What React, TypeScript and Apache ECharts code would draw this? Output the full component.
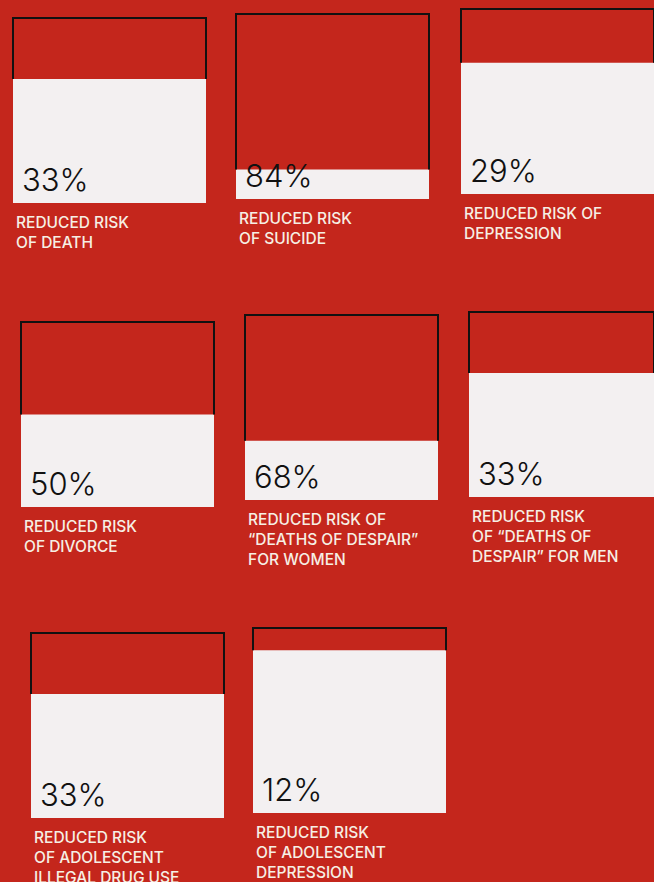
import React, { useEffect, useRef } from "react";
import * as echarts from "echarts";

const values = [33, 84, 29, 50, 68, 33, 33, 12];
const percentLabels = ["33%", "84%", "29%", "50%", "68%", "33%", "33%", "12%"];
const captions = [
  "REDUCED RISK\nOF DEATH",
  "REDUCED RISK\nOF SUICIDE",
  "REDUCED RISK OF\nDEPRESSION",
  "REDUCED RISK\nOF DIVORCE",
  "REDUCED RISK OF\n“DEATHS OF DESPAIR”\nFOR WOMEN",
  "REDUCED RISK\nOF “DEATHS OF\nDESPAIR” FOR MEN",
  "REDUCED RISK\nOF ADOLESCENT\nILLEGAL DRUG USE",
  "REDUCED RISK\nOF ADOLESCENT\nDEPRESSION",
];

// panel layout (left, top) in px
const panelLeft = [13, 236, 461, 21, 245, 469, 31, 253];
const panelTop = [18, 14, 9, 322, 315, 312, 633, 628];
const PANEL_W = 193;
const PANEL_H = 185;

const RED = "#c4261c";
const WHITE = "#f3f0f1";

export default function App() {
  const ref = useRef<HTMLDivElement>(null);

  useEffect(() => {
    if (!ref.current) return;
    const chart = echarts.init(ref.current, null, { renderer: "svg" });

    const grids = values.map((_, i) => ({
      left: panelLeft[i],
      top: panelTop[i],
      width: PANEL_W,
      height: PANEL_H,
    }));
    const xAxes = values.map((_, i) => ({
      type: "category",
      gridIndex: i,
      data: ["x"],
      show: false,
      boundaryGap: true,
    }));
    const yAxes = values.map((_, i) => ({
      type: "value",
      gridIndex: i,
      min: 0,
      max: 100,
      show: false,
    }));

    const series = values.map((v, i) => ({
      type: "custom",
      xAxisIndex: i,
      yAxisIndex: i,
      data: [[0, v]],
      renderItem: (params: any, api: any) => {
        const val = api.value(1);
        const w = api.size([1, 0])[0];
        const c = api.coord([0, 100]);
        const top = c[1];
        const boundary = api.coord([0, 100 - val])[1];
        const bottom = api.coord([0, 0])[1];
        const left = c[0] - w / 2;
        const right = c[0] + w / 2;
        return {
          type: "group",
          children: [
            {
              type: "rect",
              shape: { x: left, y: boundary, width: w, height: bottom - boundary },
              style: { fill: WHITE },
            },
            {
              type: "polyline",
              shape: {
                points: [
                  [left, boundary],
                  [left, top],
                  [right, top],
                  [right, boundary],
                ],
              },
              style: { stroke: "#111111", lineWidth: 2, fill: null },
            },
            {
              type: "text",
              style: {
                x: left + 9,
                y: bottom - 8,
                text: percentLabels[i],
                fill: "#111111",
                font: "300 31px Inter, 'Noto Sans', sans-serif",
                textVerticalAlign: "bottom",
                textAlign: "left",
              },
            },
            {
              type: "text",
              style: {
                x: left + 3,
                y: bottom + 9,
                text: captions[i],
                fill: "#f6efe4",
                font: "500 15.5px Inter, 'Noto Sans', sans-serif",
                lineHeight: 20,
                textVerticalAlign: "top",
                textAlign: "left",
              },
            },
          ],
        };
      },
    }));

    chart.setOption({
      animation: false,
      backgroundColor: RED,
      grid: grids,
      xAxis: xAxes,
      yAxis: yAxes,
      series,
    });

    return () => chart.dispose();
  }, []);

  return (
    <div
      ref={ref}
      style={{ position: "fixed", left: 0, top: 0, width: 654, height: 882 }}
    />
  );
}
